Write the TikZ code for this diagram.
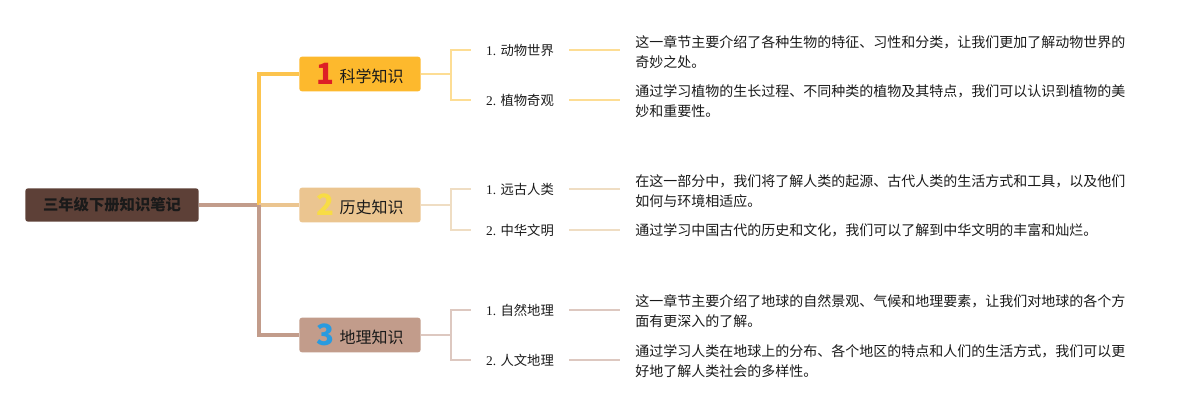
\documentclass[tikz,border=0pt]{standalone}
\usepackage{fontspec}
\setmainfont{Liberation Serif}
\newfontfamily\cjk{Noto Sans CJK SC}
\usetikzlibrary{positioning}
\definecolor{nbroot}{HTML}{5D4037}
\definecolor{nbgold}{HTML}{FDB92D}
\definecolor{nbtan}{HTML}{EBC590}
\definecolor{nbrose}{HTML}{C29C8B}
\definecolor{nbgoldline}{HTML}{FCC44E}
\definecolor{nbgoldlt}{HTML}{FDDD94}
\definecolor{nbtanlt}{HTML}{EFDDC3}
\definecolor{nbroselt}{HTML}{DDC8C0}
\definecolor{nbred}{HTML}{DD1F26}
\definecolor{nbyellow}{HTML}{F8DC45}
\definecolor{nbblue}{HTML}{2A9BDF}
\definecolor{nbink}{HTML}{1A1A1A}
\begin{document}
\begin{tikzpicture}[x=0.75pt, y=-0.75pt, font=\cjk,
    rootbox/.style={fill=nbroot, rounded corners=2pt, minimum width=130pt, minimum height=25pt,
                    text=nbink, font=\cjk\bfseries\fontsize{11.5}{13}\selectfont},
    catbox/.style={rounded corners=2pt, minimum width=91pt, minimum height=26pt, inner ysep=1pt,
                   text=nbink, font=\cjk\fontsize{12}{14}\selectfont},
    subitem/.style={inner xsep=11.25pt, text=nbink, font=\fontsize{10}{12}\selectfont},
    desc/.style={anchor=west, inner xsep=11.25pt, align=left, text=nbink,
                 font=\cjk\fontsize{10.5}{15}\selectfont},
    trunk/.style={line width=3pt},
    twig/.style={line width=1.5pt}]
  \useasboundingbox (0,0) rectangle (1195,410);
  \node[rootbox] (root) at (112,205) {三年级下册知识笔记};
  \coordinate (jn) at (259,205);
  \draw[trunk, nbrose] (root.east) -- (jn);
  \foreach \c/\y/\fillc/\linec/\numc/\name in {1/74/nbgold/nbgoldline/nbred/科学知识,
      2/205/nbtan/nbtan/nbyellow/历史知识, 3/335/nbrose/nbrose/nbblue/地理知识} {
    \node[catbox, fill=\fillc] (cat\c) at (360,\y)
      {\raisebox{-1.5pt}{\bfseries\fontsize{22}{22}\selectfont\color{\numc}\c}\hspace{4pt}\name};
    \draw[trunk, \linec] (jn) |- (cat\c.west);
  }
  % science
  \node[subitem] (s1a) at (520,50) {1. {\cjk 动物世界}};
  \node[subitem] (s1b) at (520,100) {2. {\cjk 植物奇观}};
  \node[desc] (d1a) at (620,52) {这一章节主要介绍了各种生物的特征、习性和分类，让我们更加了解动物世界的\\奇妙之处。};
  \node[desc] (d1b) at (620,101) {通过学习植物的生长过程、不同种类的植物及其特点，我们可以认识到植物的美\\妙和重要性。};
  \draw[twig, nbgoldlt] (cat1.east) -- ++(30,0) coordinate (b1) |- (s1a.west) (b1) |- (s1b.west);
  \draw[twig, nbgoldlt] (s1a.east) -- (s1a.east -| d1a.west);
  \draw[twig, nbgoldlt] (s1b.east) -- (s1b.east -| d1b.west);
  % history
  \node[subitem] (s2a) at (520,189) {1. {\cjk 远古人类}};
  \node[subitem] (s2b) at (520,230) {2. {\cjk 中华文明}};
  \node[desc] (d2a) at (620,191) {在这一部分中，我们将了解人类的起源、古代人类的生活方式和工具，以及他们\\如何与环境相适应。};
  \node[desc] (d2b) at (620,230) {通过学习中国古代的历史和文化，我们可以了解到中华文明的丰富和灿烂。};
  \draw[twig, nbtanlt] (cat2.east) -- ++(30,0) coordinate (b2) |- (s2a.west) (b2) |- (s2b.west);
  \draw[twig, nbtanlt] (s2a.east) -- (s2a.east -| d2a.west);
  \draw[twig, nbtanlt] (s2b.east) -- (s2b.east -| d2b.west);
  % geography
  \node[subitem] (s3a) at (520,310) {1. {\cjk 自然地理}};
  \node[subitem] (s3b) at (520,360) {2. {\cjk 人文地理}};
  \node[desc] (d3a) at (620,311) {这一章节主要介绍了地球的自然景观、气候和地理要素，让我们对地球的各个方\\面有更深入的了解。};
  \node[desc] (d3b) at (620,361) {通过学习人类在地球上的分布、各个地区的特点和人们的生活方式，我们可以更\\好地了解人类社会的多样性。};
  \draw[twig, nbroselt] (cat3.east) -- ++(30,0) coordinate (b3) |- (s3a.west) (b3) |- (s3b.west);
  \draw[twig, nbroselt] (s3a.east) -- (s3a.east -| d3a.west);
  \draw[twig, nbroselt] (s3b.east) -- (s3b.east -| d3b.west);
\end{tikzpicture}
\end{document}
